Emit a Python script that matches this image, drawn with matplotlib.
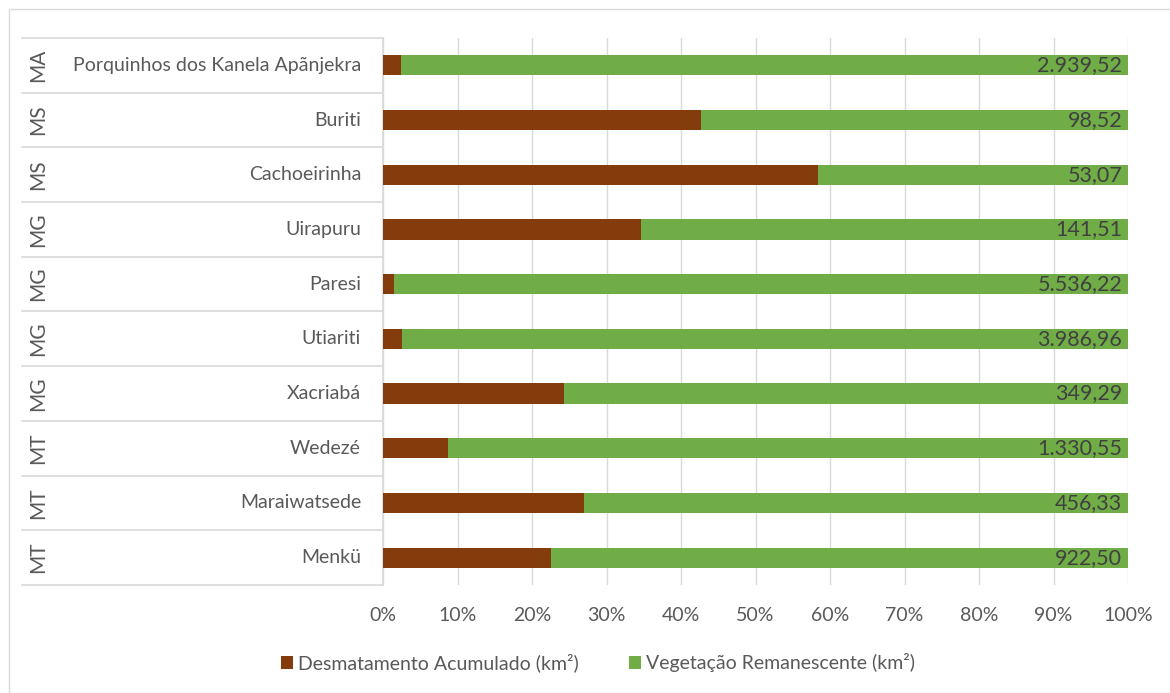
import numpy as np
import matplotlib
matplotlib.use('Agg')
from matplotlib import pyplot as plt
from matplotlib.patches import Rectangle
from matplotlib.lines import Line2D

# top to bottom
names = ['Porquinhos dos Kanela Apãnjekra', 'Buriti', 'Cachoeirinha', 'Uirapuru', 'Paresi',
         'Utiariti', 'Xacriabá', 'Wedezé', 'Maraiwatsede', 'Menkü']
states = ['MA', 'MS', 'MS', 'MG', 'MG', 'MG', 'MG', 'MT', 'MT', 'MT']
# km², deforestation estimated from bar proportions
desmatamento = [72.3, 73.4, 74.5, 74.9, 84.3, 104.3, 112.1, 126.8, 168.8, 269.4]
vegetacao = [2939.52, 98.52, 53.07, 141.51, 5536.22, 3986.96, 349.29, 1330.55, 456.33, 922.50]
vegetacao_labels = ['2.939,52', '98,52', '53,07', '141,51', '5.536,22',
                    '3.986,96', '349,29', '1.330,55', '456,33', '922,50']
x_ticks = [0, 0.1, 0.2, 0.3, 0.4, 0.5, 0.6, 0.7, 0.8, 0.9, 1.0]

BROWN = '#843C0C'
GREEN = '#70AD47'
TXT = '#595959'
FS = 14
plt.rcParams['font.family'] = ['Lato', 'DejaVu Sans']

W, H = 1170, 693
fig = plt.figure(figsize=(W / 100, H / 100), dpi=100)
# chart border
fig.patches.append(Rectangle((9 / W, 0), (W - 9) / W + 0.01, 1 - 9 / H, transform=fig.transFigure,
                             fill=False, edgecolor='#d9d9d9', lw=1))

ax_l, ax_r, ax_t, ax_b = 383, 1128, 38, 585
ax = fig.add_axes([ax_l / W, 1 - ax_b / H, (ax_r - ax_l) / W, (ax_b - ax_t) / H])

d = np.array(desmatamento)
v = np.array(vegetacao)
tot = d + v
pd_ = d / tot
pv = v / tot
y = np.arange(len(names))
bh = 0.37
ax.barh(y, pd_, height=bh, color=BROWN, label='Desmatamento Acumulado (km²)', zorder=3)
ax.barh(y, pv, left=pd_, height=bh, color=GREEN, label='Vegetação Remanescente (km²)', zorder=3)
for i in range(len(names)):
    ax.text(0.992, i, vegetacao_labels[i], ha='right', va='center', fontsize=15.5,
            color='#404040', zorder=4)

ax.set_xlim(0, 1)
ax.set_ylim(len(names) - 0.5, -0.5)
ax.set_xticks(x_ticks)
ax.set_xticklabels(['%d%%' % round(t * 100) for t in x_ticks])
ax.tick_params(axis='x', length=0, pad=16, labelsize=FS, labelcolor=TXT)
ax.set_yticks([])
ax.grid(axis='x', color='#d9d9d9', lw=1, zorder=0)
for s in ['top', 'right', 'bottom']:
    ax.spines[s].set_visible(False)
ax.spines['left'].set_color('#d9d9d9')
ax.spines['left'].set_linewidth(1.2)

# multi-level category labels
tr = ax.get_yaxis_transform()
x_name = (361 - ax_l) / (ax_r - ax_l)
x_state = (38 - ax_l) / (ax_r - ax_l)
x_sep = (22 - ax_l) / (ax_r - ax_l)
for i in range(len(names)):
    ax.text(x_name, i, names[i], transform=tr, ha='right', va='center', fontsize=FS,
            color=TXT, clip_on=False)
    ax.text(x_state, i, states[i], transform=tr, ha='center', va='center', fontsize=FS + 1,
            color=TXT, rotation=90, clip_on=False)
for b in np.arange(-0.5, len(names), 1.0):
    ax.add_line(Line2D([x_sep, 0], [b, b], transform=tr, color='#d9d9d9', lw=1.2,
                       clip_on=False))

fig.legend(loc='center', bbox_to_anchor=(598 / W, 1 - 663 / H), ncol=2, frameon=False,
           handlelength=0.6, handleheight=0.6, handletextpad=0.25, columnspacing=2.6,
           fontsize=FS, labelcolor=TXT)

fig.savefig('out.png', dpi=100)
